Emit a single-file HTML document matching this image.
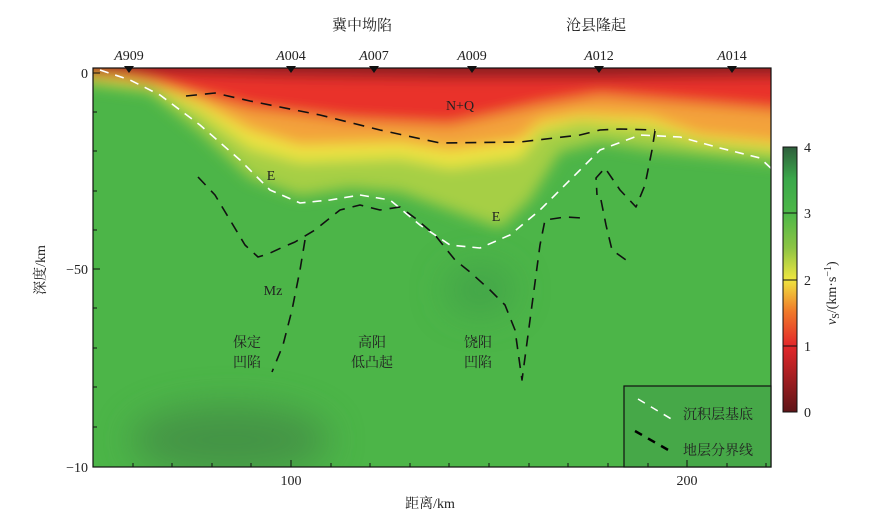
<!DOCTYPE html>
<html><head><meta charset="utf-8"><style>
body{margin:0;background:#fff;}
svg{display:block;font-family:"Liberation Serif","Noto Serif CJK SC",serif;}
</style></head><body>
<svg width="885" height="525" viewBox="0 0 885 525" xmlns="http://www.w3.org/2000/svg">
<defs>
<clipPath id="pc"><rect x="93" y="68" width="678" height="399"/></clipPath>
<filter id="bl" filterUnits="userSpaceOnUse" x="0" y="0" width="885" height="525"><feGaussianBlur stdDeviation="7"/></filter>
<filter id="bl2" filterUnits="userSpaceOnUse" x="0" y="0" width="885" height="525"><feGaussianBlur stdDeviation="18"/></filter>
<linearGradient id="cb" x1="0" y1="1" x2="0" y2="0">
<stop offset="0" stop-color="#5e1518"/><stop offset="0.25" stop-color="#e3272a"/>
<stop offset="0.38" stop-color="#f07a2a"/><stop offset="0.5" stop-color="#efe640"/>
<stop offset="0.62" stop-color="#8cc444"/><stop offset="0.75" stop-color="#4db848"/>
<stop offset="0.88" stop-color="#3aa84a"/><stop offset="1" stop-color="#2f5e3c"/>
</linearGradient>
</defs>
<g clip-path="url(#pc)">
<rect x="93" y="68" width="678" height="399" fill="#4cb548"/>
<ellipse cx="230" cy="440" rx="100" ry="35" fill="#3f7f44" filter="url(#bl2)" opacity="0.6"/>
<ellipse cx="480" cy="290" rx="35" ry="25" fill="#3f9e48" filter="url(#bl2)" opacity="0.7"/>
<g filter="url(#bl)">
<path d="M60,40 L800,40 L800,165 L771,162 L650,150 L600,142 L560,152 L530,200 L500,228 L450,210 L400,192 L350,188 L300,196 L250,178 L200,132 L150,92 L60,80 Z" fill="#a6cf44"/>
<path d="M60,40 L800,40 L800,152 L700,142 L650,128 L580,122 L540,132 L520,158 L450,168 L400,158 L300,162 L250,148 L200,112 L150,86 L60,76 Z" fill="#ede443"/>
<path d="M60,40 L800,40 L800,145 L700,135 L650,118 L580,115 L540,122 L520,140 L450,150 L400,142 L300,145 L250,130 L200,102 L150,82 L60,74 Z" fill="#f3a23a"/>
<path d="M60,40 L800,40 L800,112 L680,102 L600,95 L540,105 L450,125 L350,120 L250,108 L180,90 L120,76 L60,72 Z" fill="#e9302b"/>
<path d="M60,40 L800,40 L800,76 L600,78 L450,78 L300,76 L150,72 L60,70 Z" fill="#8a1e20"/>
</g>
</g>
<g clip-path="url(#pc)" fill="none" stroke-linejoin="round">
<polyline points="100,70 130,80 160,95 200,125 240,160 270,190 300,203 330,200 360,195 390,200 420,225 450,245 480,248 510,235 540,210 570,180 600,150 640,135 680,137 720,148 760,158 775,172" stroke="#fff" stroke-width="1.6" stroke-dasharray="9,7"/>
<g stroke="#111" stroke-width="1.6" stroke-dasharray="11,8">
<polyline points="186,96 215,93 250,101 320,115 380,130 440,143 520,142 580,135 600,130 620,129 655,130"/>
<polyline points="655,131 652,150 645,185 636,207 620,190 605,168 596,178 597,195"/>
<polyline points="601,200 606,225 612,250 626,260"/>
<polyline points="198,177 215,195 230,220 245,245 258,257 268,254 283,247 295,242 315,230 340,210 360,205 380,210 400,207 415,218 435,235 455,260 470,272 490,290 505,305 515,330 522,380 530,320 540,245 545,220 565,217 582,218"/>
<polyline points="305,240 300,270 292,310 283,345 272,372"/>
</g>
</g>
<rect x="93" y="68" width="678" height="399" fill="none" stroke="#111" stroke-width="1.2"/>
<rect x="624" y="386" width="147" height="81" fill="#46a848" stroke="#111" stroke-width="1.2"/>
<line x1="638" y1="399" x2="673" y2="420" stroke="#fff" stroke-width="1.5" stroke-dasharray="8,7"/>
<line x1="635" y1="431" x2="670" y2="451" stroke="#000" stroke-width="2.5" stroke-dasharray="8,7"/>
<g font-size="14" fill="#222">
<text x="683" y="419">沉积层基底</text>
<text x="683" y="455">地层分界线</text>
</g>
<g font-size="14" fill="#222" text-anchor="middle">
<text x="460" y="110">N+Q</text>
<text x="271" y="180">E</text>
<text x="496" y="221">E</text>
<text x="273" y="295">Mz</text>
<text x="247" y="347">保定</text><text x="247" y="367">凹陷</text>
<text x="372" y="347">高阳</text><text x="372" y="367">低凸起</text>
<text x="478" y="347">饶阳</text><text x="478" y="367">凹陷</text>
</g>
<g font-size="15" fill="#222" text-anchor="middle">
<text x="362" y="30">冀中坳陷</text>
<text x="596" y="30">沧县隆起</text>
</g>
<g font-size="14" fill="#222" text-anchor="middle">
<text x="129" y="60"><tspan font-style="italic">A</tspan>909</text>
<text x="291" y="60"><tspan font-style="italic">A</tspan>004</text>
<text x="374" y="60"><tspan font-style="italic">A</tspan>007</text>
<text x="472" y="60"><tspan font-style="italic">A</tspan>009</text>
<text x="599" y="60"><tspan font-style="italic">A</tspan>012</text>
<text x="732" y="60"><tspan font-style="italic">A</tspan>014</text>
</g>
<g fill="#111">
<path d="M124,66 L134,66 L129,73Z"/><path d="M286,66 L296,66 L291,73Z"/><path d="M369,66 L379,66 L374,73Z"/>
<path d="M467,66 L477,66 L472,73Z"/><path d="M594,66 L604,66 L599,73Z"/><path d="M727,66 L737,66 L732,73Z"/>
</g>
<g stroke="#111" stroke-width="1">
<line x1="93" y1="73" x2="100" y2="73"/><line x1="93" y1="269" x2="100" y2="269"/><line x1="93" y1="467" x2="100" y2="467"/>
<line x1="93" y1="112" x2="97" y2="112"/><line x1="93" y1="151" x2="97" y2="151"/><line x1="93" y1="191" x2="97" y2="191"/><line x1="93" y1="230" x2="97" y2="230"/>
<line x1="93" y1="308" x2="97" y2="308"/><line x1="93" y1="348" x2="97" y2="348"/><line x1="93" y1="387" x2="97" y2="387"/><line x1="93" y1="427" x2="97" y2="427"/>
<line x1="291" y1="467" x2="291" y2="460"/><line x1="687" y1="467" x2="687" y2="460"/>
<line x1="133" y1="467" x2="133" y2="463"/><line x1="172" y1="467" x2="172" y2="463"/><line x1="212" y1="467" x2="212" y2="463"/><line x1="251" y1="467" x2="251" y2="463"/>
<line x1="331" y1="467" x2="331" y2="463"/><line x1="370" y1="467" x2="370" y2="463"/><line x1="410" y1="467" x2="410" y2="463"/><line x1="449" y1="467" x2="449" y2="463"/>
<line x1="489" y1="467" x2="489" y2="463"/><line x1="529" y1="467" x2="529" y2="463"/><line x1="568" y1="467" x2="568" y2="463"/><line x1="608" y1="467" x2="608" y2="463"/>
<line x1="648" y1="467" x2="648" y2="463"/><line x1="727" y1="467" x2="727" y2="463"/><line x1="766" y1="467" x2="766" y2="463"/>
</g>
<g font-size="14" fill="#222" text-anchor="end">
<text x="88" y="78">0</text><text x="88" y="274">−50</text><text x="88" y="472">−10</text>
</g>
<g font-size="14" fill="#222" text-anchor="middle">
<text x="291" y="485">100</text><text x="687" y="485">200</text>
<text x="430" y="508">距离/km</text>
<text transform="translate(45,270) rotate(-90)">深度/km</text>
</g>
<rect x="783" y="147" width="14" height="265" fill="url(#cb)" stroke="#111" stroke-width="1"/>
<g stroke="#111"><line x1="783" y1="346" x2="797" y2="346"/><line x1="783" y1="280" x2="797" y2="280"/><line x1="783" y1="213" x2="797" y2="213"/></g>
<g font-size="14" fill="#222">
<text x="804" y="152">4</text><text x="804" y="218">3</text><text x="804" y="285">2</text><text x="804" y="351">1</text><text x="804" y="417">0</text>
<text transform="translate(836,325) rotate(-90)"><tspan font-style="italic">v</tspan><tspan font-size="10" dy="3">S</tspan><tspan dy="-3">/(km·s</tspan><tspan font-size="10" dy="-5">−1</tspan><tspan dy="5">)</tspan></text>
</g>
</svg>
</body></html>
